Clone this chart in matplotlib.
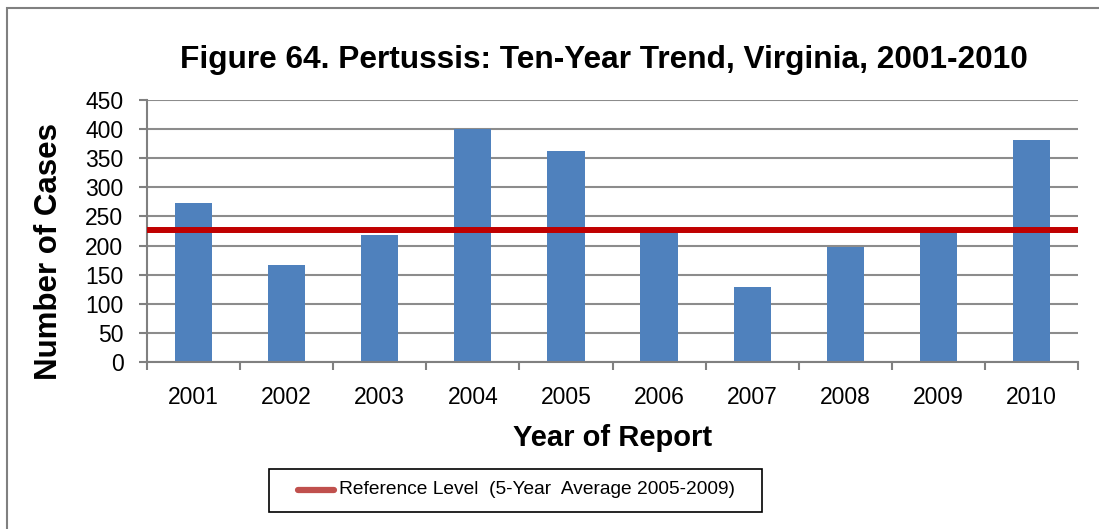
import matplotlib
matplotlib.use("Agg")
import matplotlib.pyplot as plt
from matplotlib.lines import Line2D
from matplotlib.patches import Rectangle
import numpy as np

plt.rcParams['font.family'] = ['Liberation Sans', 'DejaVu Sans']

# data
years = ['2001', '2002', '2003', '2004', '2005', '2006', '2007', '2008', '2009', '2010']
cases = [273, 167, 218, 400, 362, 223, 129, 198, 223, 382]
ref_years = ['2005', '2006', '2007', '2008', '2009']
yticks = [0, 50, 100, 150, 200, 250, 300, 350, 400, 450]

ref_level = np.mean([cases[years.index(y)] for y in ref_years])

fig = plt.figure(figsize=(10.99, 5.29), dpi=100)
W, H = 1099, 529

# outer chart border (runs off the right/bottom of the picture)
fig.patches.append(Rectangle((7 / W, -0.2), 1.2, 1.2 - 8 / H,
                             transform=fig.transFigure, fill=False,
                             edgecolor='#808080', lw=1.5))

ax = fig.add_axes([147 / W, 1 - 362 / H, (1078 - 147) / W, (362 - 100) / H])

x = np.arange(len(years))
ax.bar(x, cases, width=0.4, color='#4F81BD', zorder=2)
ax.axhline(ref_level, color='#C00000', lw=4.3, zorder=3)

ax.set_xlim(-0.5, len(years) - 0.5)
ax.set_ylim(0, 450)
ax.set_yticks(yticks)
ax.set_yticklabels([str(v) for v in yticks], fontsize=16.5)
ax.set_xticks(x)
ax.set_xticklabels(years, fontsize=16.5)
ax.tick_params(axis='x', length=0, pad=17)
ax.set_xticks(np.arange(-0.5, len(years), 1.0), minor=True)
ax.tick_params(axis='x', which='minor', length=6, width=1.5, color='#808080')
ax.tick_params(axis='y', length=6, width=1.5, color='#808080', pad=11)

ax.grid(axis='y', color='#8C8C8C', lw=1.5, zorder=0)
ax.set_axisbelow(True)
for s in ['top', 'right']:
    ax.spines[s].set_visible(False)
for s in ['left', 'bottom']:
    ax.spines[s].set_color('#808080')
    ax.spines[s].set_linewidth(1.5)

ax.set_ylabel('Number of Cases', fontsize=22.5, fontweight='bold', va='center')
ax.yaxis.set_label_coords((49 - 147) / 931, (362 - 252) / 262)
ax.set_xlabel('Year of Report', fontsize=21, fontweight='bold', va='baseline')
ax.xaxis.set_label_coords(0.5, (362 - 446) / 262)

fig.text(604 / W, 1 - 68 / H, 'Figure 64. Pertussis: Ten-Year Trend, Virginia, 2001-2010',
         ha='center', va='baseline', fontsize=22.8, fontweight='bold')

# legend box drawn by hand so the padding matches
fig.patches.append(Rectangle((269 / W, 1 - 512 / H), (762 - 269) / W, 43 / H,
                             transform=fig.transFigure, fill=False,
                             edgecolor='black', lw=1.2))
fig.lines.append(Line2D([298 / W, 334 / W], [1 - 490 / H, 1 - 490 / H],
                        transform=fig.transFigure, color='#C0504D', lw=4.5,
                        solid_capstyle='round'))
fig.text(339 / W, 1 - 490 / H, 'Reference Level  (5-Year  Average 2005-2009)',
         ha='left', va='center', fontsize=13.8)

fig.savefig('out.png', dpi=100)
